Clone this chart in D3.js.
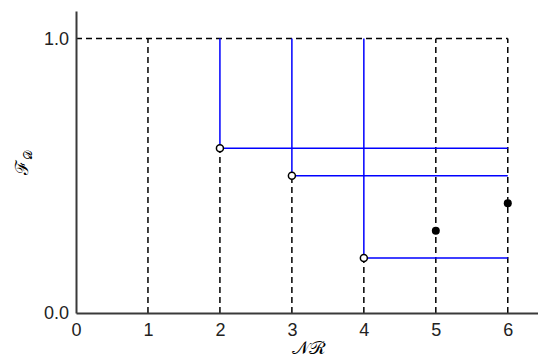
<!DOCTYPE html>
<html>
<head>
<meta charset="utf-8">
<script src="https://cdn.jsdelivr.net/npm/d3@7"></script>
<style>
  body { margin: 0; background: #fff; }
  text { font-family: "Liberation Sans", Arial, sans-serif; }
</style>
</head>
<body>
<div class="stepchart"></div>
<script>
// chart data
const xTicks = [0, 1, 2, 3, 4, 5, 6];
const yTicks = [0, 1];
const yTickLabels = ['0.0', '1.0'];
// dashed guide lines: x position, top y
const guideX = [1, 2, 3, 4, 5, 6];
const guideTop = [1.0, 0.6, 0.5, 0.2, 1.0, 1.0];
// blue corners (open circles)
const openX = [2, 3, 4];
const openY = [0.6, 0.5, 0.2];
// filled points
const filledX = [5, 6];
const filledY = [0.3, 0.4];
const xMax = 6;
const yTop = 1.0;

const width = 538, height = 361;
const margin = { t: 11, r: 0, b: 48, l: 76 };

const svg = d3.select('.stepchart')
  .append('svg')
    .attr('width', width)
    .attr('height', height);

const x = d3.scaleLinear()
  .domain([0, 6.42])
  .range([margin.l, width - margin.r]);
const y = d3.scaleLinear()
  .domain([0, 1.1])
  .range([height - margin.b, margin.t]);

// dashed guides
const dash = '6,4';
svg.append('line')
  .attr('x1', x(0)).attr('x2', x(xMax))
  .attr('y1', y(yTop)).attr('y2', y(yTop))
  .attr('stroke', '#000').attr('stroke-width', 1.5)
  .attr('stroke-dasharray', dash);

svg.selectAll('.guide')
  .data(guideX)
  .enter().append('line')
    .attr('x1', d => x(d)).attr('x2', d => x(d))
    .attr('y1', y(0)).attr('y2', (d, i) => y(guideTop[i]))
    .attr('stroke', '#000').attr('stroke-width', 1.5)
    .attr('stroke-dasharray', dash);

// blue steps
openX.forEach((d, i) => {
  svg.append('path')
    .attr('fill', 'none')
    .attr('stroke', '#0000ff')
    .attr('stroke-width', 1.5)
    .attr('d', d3.line()([
      [x(d), y(yTop)],
      [x(d), y(openY[i])],
      [x(xMax), y(openY[i])]
    ]));
});

// axes
const xAxis = svg.append('g')
  .attr('transform', 'translate(0,' + y(0) + ')')
  .call(d3.axisBottom(x).tickValues(xTicks).tickSize(0).tickPadding(10).tickFormat(d3.format('d')));
const yAxis = svg.append('g')
  .attr('transform', 'translate(' + x(0) + ',0)')
  .call(d3.axisLeft(y).tickValues(yTicks).tickSize(0).tickPadding(7).tickFormat((d, i) => yTickLabels[i]));

[xAxis, yAxis].forEach(g => {
  g.select('.domain').attr('stroke', '#3a3a3a').attr('stroke-width', 2);
  g.selectAll('text').attr('font-size', 18).attr('fill', '#222')
    .attr('font-family', '"Liberation Sans", Arial, sans-serif');
});

// points
svg.selectAll('.open')
  .data(openX)
  .enter().append('circle')
    .attr('cx', d => x(d)).attr('cy', (d, i) => y(openY[i]))
    .attr('r', 3.5)
    .attr('fill', '#fff').attr('stroke', '#000').attr('stroke-width', 1.5);

svg.selectAll('.filled')
  .data(filledX)
  .enter().append('circle')
    .attr('cx', d => x(d)).attr('cy', (d, i) => y(filledY[i]))
    .attr('r', 4)
    .attr('fill', '#000');

// axis labels
svg.append('text')
  .attr('x', (x(0) + width) / 2 + 2)
  .attr('y', 354)
  .attr('text-anchor', 'middle')
  .attr('font-size', 18)
  .attr('font-family', '"DejaVu Serif", "Noto Sans", serif')
  .text('\u{1D4A9}\u211B');

const yl = svg.append('text')
  .attr('transform', 'translate(28,' + ((y(0) + y(1.1)) / 2) + ') rotate(-90)')
  .attr('text-anchor', 'middle')
  .attr('font-size', 18)
  .attr('font-family', '"DejaVu Serif", "Noto Sans", serif');
yl.append('tspan').text('\u2131');
yl.append('tspan').attr('font-size', 12).attr('dy', 4).text('\u{1D49F}');
</script>
</body>
</html>
